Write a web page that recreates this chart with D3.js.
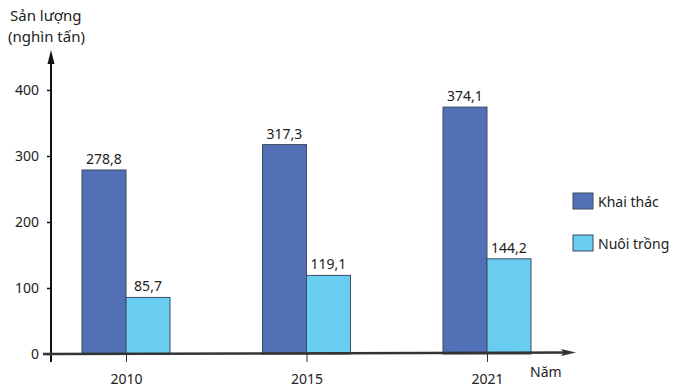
<!DOCTYPE html>
<html>
<head>
<meta charset="utf-8">
<script src="https://cdn.jsdelivr.net/npm/d3@7"></script>
<style>
  body { margin: 0; background: #fff; }
  text { font-family: "Noto Sans", "Open Sans", sans-serif; fill: #222; }
</style>
</head>
<body>
<div id="chart"></div>
<script>
	// Data
	var years = ['2010', '2015', '2021'],
		khaiThac = [278.8, 317.3, 374.1],
		nuoiTrong = [85.7, 119.1, 144.2],
		yTicks = [0, 100, 200, 300, 400],
		seriesNames = ['Khai thác', 'Nuôi trồng'],
		seriesColors = ['#5270b6', '#69cdf1'];

	var width = 698,
		height = 387,
		axisX = 51,
		zeroY = 354,
		barW = 44;

	var svg = d3.select('#chart').append('svg')
		.attr('width', width)
		.attr('height', height);

	var y = d3.scaleLinear().domain([0, 400]).range([zeroY, 90]);
	var x = d3.scalePoint().domain(years).range([126, 487]);

	var fmt = function (v) { return String(v).replace('.', ','); };

	// bars
	var series = [khaiThac, nuoiTrong];
	series.forEach(function (vals, s) {
		var g = svg.append('g');
		g.selectAll('rect')
			.data(vals)
			.enter().append('rect')
			.attr('x', function (d, i) { return x(years[i]) + (s - 1) * barW; })
			.attr('y', function (d) { return y(d); })
			.attr('width', barW)
			.attr('height', function (d) { return zeroY - y(d); })
			.attr('fill', seriesColors[s])
			.attr('stroke', '#3c4a63')
			.attr('stroke-width', 1);

		g.selectAll('text')
			.data(vals)
			.enter().append('text')
			.attr('x', function (d, i) { return x(years[i]) + (s - 1) * barW + barW / 2; })
			.attr('y', function (d) { return y(d) - 6; })
			.attr('text-anchor', 'middle')
			.attr('font-size', 14)
			.text(fmt);
	});

	// y axis
	var yAxis = d3.axisLeft(y).tickValues(yTicks).tickSize(4).tickPadding(8);
	var gy = svg.append('g')
		.attr('transform', 'translate(' + axisX + ',0)')
		.call(yAxis);
	gy.select('.domain').remove();
	gy.selectAll('line').attr('stroke', '#111').attr('stroke-width', 1.5);
	gy.selectAll('text').attr('font-size', 14).style('fill', '#222');

	svg.append('line')
		.attr('x1', axisX).attr('x2', axisX)
		.attr('y1', 362).attr('y2', 58)
		.attr('stroke', '#111').attr('stroke-width', 2);
	svg.append('path')
		.attr('d', 'M' + axisX + ',50 L' + (axisX - 3.5) + ',64 L' + (axisX + 3.5) + ',64 Z')
		.attr('fill', '#111');

	// x axis
	var xAxis = d3.axisBottom(x).tickSize(8).tickPadding(12);
	var gx = svg.append('g')
		.attr('transform', 'translate(0,' + zeroY + ')')
		.call(xAxis);
	gx.select('.domain').remove();
	gx.selectAll('line').attr('stroke', '#333').attr('stroke-width', 1);
	gx.selectAll('text').attr('font-size', 14).style('fill', '#222');

	svg.append('line')
		.attr('x1', 43).attr('x2', 568)
		.attr('y1', zeroY).attr('y2', zeroY - 1.5)
		.attr('stroke', '#333').attr('stroke-width', 2.5);
	svg.append('path')
		.attr('d', 'M576,352.5 L561,349 L564,352.5 L561,356 Z')
		.attr('fill', '#333');

	// axis titles
	svg.append('text').attr('x', 10).attr('y', 21).attr('font-size', 15).text('Sản lượng');
	svg.append('text').attr('x', 8).attr('y', 42).attr('font-size', 15).text('(nghìn tấn)');
	svg.append('text').attr('x', 530).attr('y', 377).attr('font-size', 14).text('Năm');

	// legend
	var legend = svg.append('g').attr('transform', 'translate(573,193)');
	seriesNames.forEach(function (name, i) {
		legend.append('rect')
			.attr('x', 0).attr('y', i * 42)
			.attr('width', 20).attr('height', 16)
			.attr('fill', seriesColors[i])
			.attr('stroke', '#3c4a63');
		legend.append('text')
			.attr('x', 25).attr('y', i * 42 + 14)
			.attr('font-size', 14)
			.text(name);
	});
</script>
</body>
</html>
